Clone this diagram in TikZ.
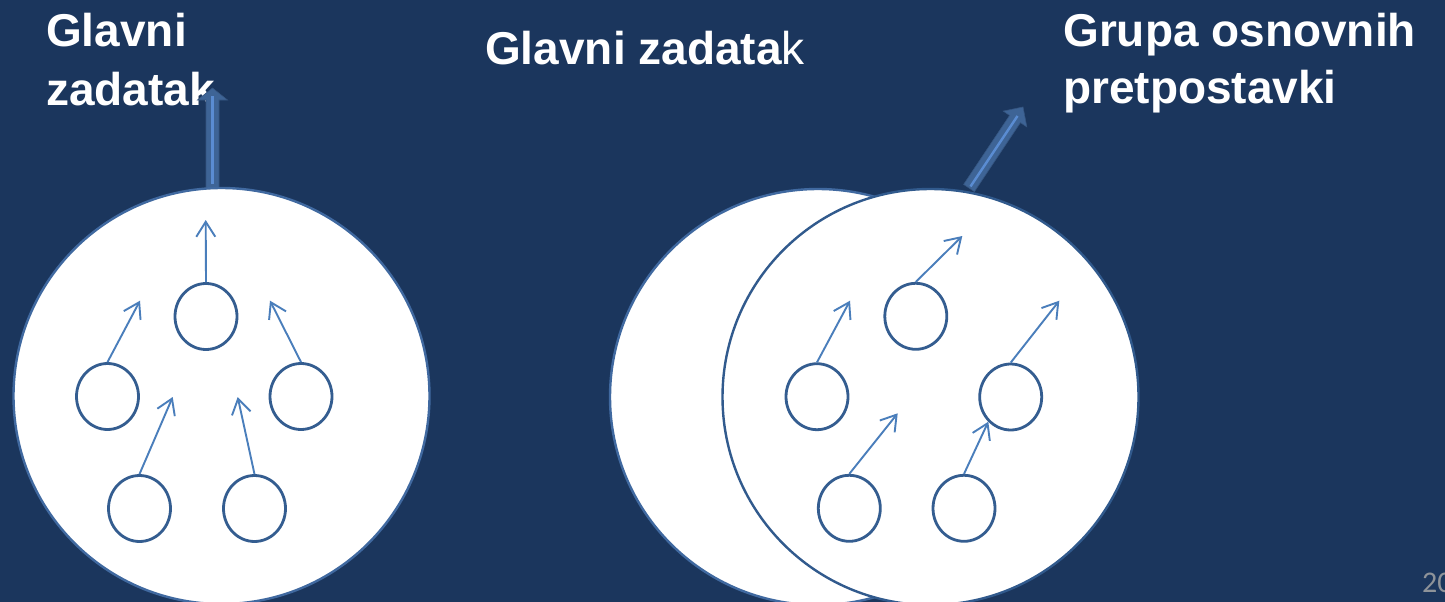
\documentclass[tikz,border=0pt]{standalone}
\usepackage{fontspec}
\setmainfont{Liberation Sans}
\newfontfamily\pagenumfont{Carlito}
\usetikzlibrary{shapes.geometric,arrows.meta}
\definecolor{bg}{HTML}{1B365D}
\definecolor{bigedge}{HTML}{4069A0}
\definecolor{frontedge}{HTML}{315A8D}
\definecolor{ringc}{HTML}{345D90}
\definecolor{arrowc}{HTML}{4A7EBB}
\definecolor{blockc}{HTML}{3E6496}
\definecolor{stripec}{HTML}{5A8CD2}
\definecolor{pagec}{HTML}{8E9399}
\begin{document}
\begin{tikzpicture}[x=1pt,y=-1pt,
  bigcirc/.style={circle, draw=bigedge, fill=white, line width=2.4pt, minimum size=416pt, inner sep=0pt},
  smallcirc/.style={ellipse, draw=ringc, line width=2.8pt, minimum width=62pt, minimum height=66pt, inner sep=0pt},
  thinarrow/.style={draw=arrowc, line width=1.9pt, -{Straight Barb[length=15pt,width=19pt]}},
  blockarrow/.style={fill=blockc, draw=blockc!85!black, line width=0.6pt},
  blockstripe/.style={draw=stripec, line width=2.4pt},
  titletext/.style={text=white, font=\bfseries\fontsize{46}{56}\selectfont, anchor=base west, inner sep=0pt}]
% background and bounding box
\fill[bg] (0,0) rectangle (1445,602);
\useasboundingbox (0,0) rectangle (1445,602);

% titles
\node[titletext] (tleftA) at (46,47) {Glavni};
\node[titletext] (tleftB) at (46,105) {zadatak};
\node[titletext] (tmid) at (485,64) {Glavni zadata\mdseries k};
\node[titletext] (trightA) at (1063,47) {Grupa osnovnih};
\node[titletext] (trightB) at (1063,103) {pretpostavki};
\node[text=pagec, font=\pagenumfont\fontsize{30}{36}\selectfont, anchor=base west, inner sep=0pt] (pnum) at (1422,592) {20};

% big block arrows (drawn before the circles so the circles cover their bases)
\fill[blockarrow] (206,188) -- (206,100) -- (197.5,100) -- (212.5,88) -- (227.5,100) -- (219,100) -- (219,188) -- cycle;
\draw[blockstripe] (212.5,184) -- (212.5,96);
\fill[blockarrow] (974.4,191.6) -- (1020.4,122.6) -- (1026.8,126.9) -- (1023,107) -- (1003.2,111.1) -- (1009.6,115.4) -- (963.6,184.4) -- cycle;
\draw[blockstripe] (970.5,186.5) -- (1017.5,116);

% left group
\node[bigcirc] (bigL) at (221.5,396) {};
\node[smallcirc] (lT) at (206,316.5) {};
\node[smallcirc] (lML) at (107.5,396.5) {};
\node[smallcirc] (lMR) at (301,396.5) {};
\node[smallcirc] (lBL) at (139.5,508.5) {};
\node[smallcirc] (lBR) at (254.5,508.5) {};
\coordinate (lTt) at (205.7,220);
\coordinate (lMLt) at (140,300.7);
\coordinate (lMRt) at (270,300.7);
\coordinate (lBLt) at (172.7,397);
\coordinate (lBRt) at (237.7,397);
\draw[thinarrow] (lT.north) -- (lTt);
\draw[thinarrow] (lML.north) -- (lMLt);
\draw[thinarrow] (lMR.north) -- (lMRt);
\draw[thinarrow] (lBL.north) -- (lBLt);
\draw[thinarrow] (lBR.north) -- (lBRt);

% right group
\node[bigcirc] (bigB) at (818,397) {};
\node[bigcirc, draw=frontedge] (bigF) at (930.5,397) {};
\node[smallcirc] (rT) at (915.8,316.3) {};
\node[smallcirc] (rML) at (817,396.7) {};
\node[smallcirc] (rMR) at (1010.7,397) {};
\node[smallcirc] (rBL) at (849.3,508.3) {};
\node[smallcirc] (rBR) at (964,508.3) {};
\coordinate (rTt) at (962.3,236);
\coordinate (rMLt) at (850,300.7);
\coordinate (rMRt) at (1059.3,300.7);
\coordinate (rBLt) at (897.7,413.3);
\coordinate (rBRt) at (988.3,421.7);
\draw[thinarrow] (rT.north) -- (rTt);
\draw[thinarrow] (rML.north) -- (rMLt);
\draw[thinarrow] (rMR.north) -- (rMRt);
\draw[thinarrow] (rBL.north) -- (rBLt);
\draw[thinarrow] (rBR.north) -- (rBRt);
\end{tikzpicture}
\end{document}
